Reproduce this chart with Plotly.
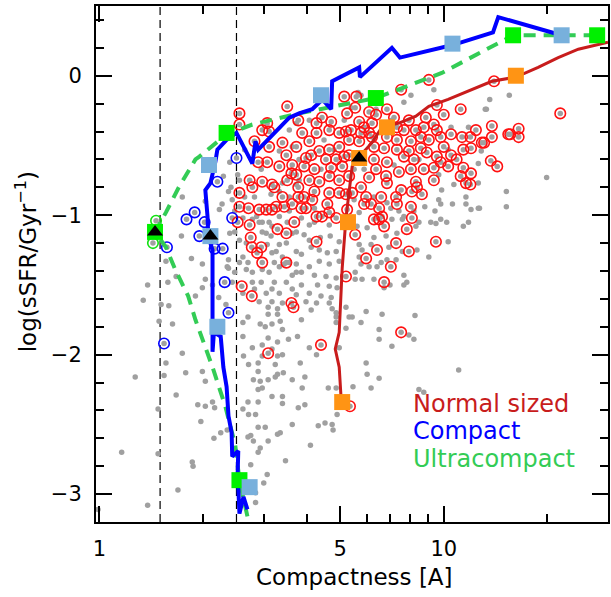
import math
import plotly.graph_objects as go

# ---------------- data (compactness [A], log sSFR) ----------------
grey_only = [
    (1.74,-0.87),(2.03,-0.90),(2.37,-0.83),(2.27,-0.92),(2.29,-0.72),(1.73,-1.15),(1.85,-1.31),(1.99,-1.35),
    (1.56,-1.33),(1.67,-1.44),(1.58,-1.48),(1.38,-1.50),(1.34,-1.61),(1.51,-1.64),(1.59,-1.65),(1.99,-1.52),
    (1.90,-1.58),(2.22,-1.59),(2.33,-1.64),(2.37,-1.32),(2.37,-1.38),(2.03,-1.46),(2.23,-0.96),(2.13,-1.50),
    (1.49,-1.76),(1.63,-1.78),(1.74,-1.99),(1.56,-2.06),(1.54,-2.15),(1.27,-2.16),(1.78,-2.13),(1.99,-2.12),
    (2.03,-2.19),(1.67,-2.29),(1.48,-2.39),(1.93,-2.36),(2.03,-2.37),(2.13,-2.34),(2.16,-2.38),(1.97,-2.48),
    (2.25,-2.56),(2.15,-2.60),(2.35,-2.54),(1.16,-2.70),(1.48,-2.71),(1.86,-2.77),(1.87,-2.80),(1.69,-2.97),
    (1.38,-3.08),(0.99,-3.11),
    (2.43,-0.89),(2.55,-0.75),(2.64,-0.87),(2.82,-0.87),(2.86,-1.01),(3.05,-1.13),(3.17,-1.08),(3.33,-1.01),
    (3.56,-0.97),(3.63,-1.13),(3.49,-1.20),(3.26,-1.26),(3.11,-1.41),(3.33,-1.37),(3.56,-1.34),(3.73,-1.41),
    (3.63,-1.53),(3.17,-1.53),(2.78,-1.48),(2.61,-1.56),(2.91,-1.05),(3.40,-0.77),(3.73,-0.78),(3.63,-0.51),
    (3.73,-0.34),(2.39,-1.13),(2.35,-1.37),(2.55,-1.18),(2.55,-1.34),(2.67,-1.39),(2.43,-1.48),
    (2.41,-0.80),(3.15,-0.85),(3.33,-0.83),(3.56,-0.87),(4.21,-0.95),(5.49,-0.89),(2.47,-0.97),(2.61,-1.02),
    (2.78,-1.03),(2.97,-1.05),(3.11,-1.05),(3.51,-1.05),(3.86,-1.02),(4.07,-1.07),(4.21,-1.05),(4.65,-1.07),
    (5.14,-1.09),(2.47,-1.12),(2.97,-1.12),(3.15,-1.15),(3.73,-1.12),(3.93,-1.14),(4.07,-1.18),(4.38,-1.16),
    (4.68,-1.15),(4.97,-1.19),(2.67,-1.20),(3.07,-1.21),(3.33,-1.21),(3.73,-1.26),(3.86,-1.28),(4.12,-1.23),
    (4.35,-1.25),(4.59,-1.27),(4.87,-1.26),(2.61,-1.30),(3.17,-1.27),(3.40,-1.30),(2.70,-1.34),(3.22,-1.34),
    (3.44,-1.35),(3.73,-1.35),(4.07,-1.37),(4.35,-1.33),(4.65,-1.35),(4.97,-1.33),(2.47,-1.41),(2.78,-1.41),
    (2.97,-1.39),(3.63,-1.43),(3.86,-1.41),(4.21,-1.43),(4.55,-1.44),(4.87,-1.45),(2.95,-1.48),(3.22,-1.48),
    (3.49,-1.48),(3.86,-1.50),(4.30,-1.50),(4.65,-1.51),(4.90,-1.52),(2.82,-1.53),(3.05,-1.56),(3.33,-1.56),
    (3.73,-1.57),(4.07,-1.56),(4.40,-1.58),(4.71,-1.59),(2.91,-1.62),(3.17,-1.62),(3.40,-1.63),(3.98,-1.62),
    (4.27,-1.63),(4.65,-1.63),
    (2.39,-0.62),(2.52,-0.71),(3.33,-0.54),(3.80,-0.60),(4.07,-0.32),(5.14,-0.32),(4.49,-0.46),(3.56,-0.39),
    (4.52,-0.15),(5.64,-0.12),(4.80,-0.53),(5.49,-0.67),(4.40,-0.67),(3.80,-0.75),(2.95,-0.67),(2.64,-0.53),
    (5.75,-0.14),(8.03,-0.14),(7.66,-0.19),(9.36,-0.10),(5.38,-0.23),(6.36,-0.24),(7.07,-0.32),(10.5,-0.37),
    (11.8,-0.37),(13.3,-0.24),(7.17,-0.64),(9.67,-0.71),(10.7,-0.78),(5.87,-0.67),(8.47,-0.60),(10.3,-0.53),
    (9.86,-0.82),(9.67,-0.89),(9.80,-0.92),(8.81,-0.94),(9.43,-0.97),(10.6,-0.92),(11.6,-0.87),(11.6,-0.92),
    (12.7,-0.95),(12.0,-0.96),(10.2,-1.05),(9.80,-1.03),(9.17,-1.05),(9.49,-1.06),(11.4,-1.08),(11.8,-1.05),
    (10.3,-1.19),(9.05,-1.30),(8.36,-1.25),(7.58,-1.26),(7.27,-1.32),(6.93,-1.23),(6.84,-1.32),(6.58,-1.34),
    (6.40,-1.37),(6.07,-1.37),(5.68,-1.21),(5.79,-1.25),(5.68,-1.30),(5.75,-1.35),(6.15,-1.21),(6.27,-1.16),
    (6.80,-1.15),(7.31,-1.13),(7.07,-1.03),(7.58,-1.03),(7.66,-1.01),(8.30,-1.08),(8.47,-1.05),(8.19,-0.97),
    (7.41,-0.97),(7.02,-0.95),(6.84,-0.91),(6.27,-0.87),(5.68,-0.98),(5.60,-1.08),(5.99,-1.09),(7.66,-1.43),
    (7.81,-1.48),(6.27,-1.46),(5.79,-1.46),(5.53,-1.46),(5.53,-1.41),(6.98,-1.50),(7.66,-1.50),(6.71,-1.52),
    (13.6,-0.17),(15.5,-0.14),(13.2,-0.24),(12.85,-0.54),(12.6,-0.63),(12.6,-0.77),(15.2,-0.83),(12.6,-0.95),
    (15.2,-0.94),(19.9,-0.73),
    (2.61,-1.77),(2.70,-1.73),(2.61,-1.87),(2.78,-1.95),(2.62,-2.01),(2.71,-2.07),(2.89,-2.06),(2.97,-2.01),
    (2.80,-2.18),(2.89,-2.12),(2.93,-2.19),(2.97,-2.24),(3.09,-2.18),(3.24,-2.16),(3.29,-2.14),(3.42,-2.13),
    (3.24,-2.07),(3.40,-2.00),(3.29,-2.01),(3.17,-1.96),(2.97,-1.93),(3.09,-1.88),(3.29,-1.91),(3.54,-1.89),
    (3.76,-1.87),(3.35,-1.76),(3.29,-1.71),(3.17,-1.78),(3.03,-1.80),(2.93,-1.78),(3.09,-1.66),(3.29,-1.67),
    (3.09,-1.71),(3.40,-1.82),(3.86,-1.75),(3.83,-2.06),(3.63,-2.18),(3.95,-2.16),(3.88,-2.24),(3.40,-2.30),
    (3.17,-2.30),(2.89,-2.25),(2.61,-2.39),(2.70,-2.34),(2.89,-2.34),(2.71,-2.43),(2.84,-2.43),(3.03,-2.52),
    (2.89,-2.52),(2.70,-2.59),(2.75,-2.58),(3.29,-2.57),(3.35,-2.56),(3.09,-2.62),(2.80,-2.62),(2.93,-2.67),
    (2.89,-2.70),(3.40,-2.35),(3.78,-2.38),(3.95,-2.36),(3.63,-2.50),(4.32,-2.51),(4.52,-2.49),(4.74,-2.50),
    (4.10,-2.65),(3.47,-2.76),(3.07,-2.86),(3.00,-2.92),(2.75,-2.79),(2.84,-2.99),(2.84,-3.06),(4.62,-2.24),
    (4.74,-1.67),(4.87,-1.70),(4.87,-1.73),(4.87,-1.77),(5.20,-1.66),(5.31,-1.73),(5.42,-1.73),(5.75,-1.77),
    (5.95,-1.69),(6.62,-1.71),(8.25,-1.72),(5.20,-1.81),(6.49,-1.82),(6.49,-1.89),(7.92,-1.86),(8.19,-1.89),
    (7.07,-1.94),(5.95,-2.06),(5.99,-2.14),(6.49,-2.17),(6.15,-2.24),(5.45,-2.23),(4.87,-2.24),(4.97,-1.95),
    (11.05,-2.11),(8.47,-2.25),(8.75,-2.27),(4.90,-2.43),(4.77,-2.54),(4.07,-1.95),(4.27,-2.00),(4.12,-1.68),
]

normal_pts = [
    (2.55,-0.27),(2.55,-0.35),(3.07,-0.34),(2.97,-0.39),(3.11,-0.40),(3.51,-0.22),(3.78,-0.32),(4.27,-0.34),
    (4.43,-0.30),(4.71,-0.33),(5.14,-0.15),(5.24,-0.27),(5.53,-0.23),(5.57,-0.15),(4.65,-0.39),(4.97,-0.41),
    (5.20,-0.40),(5.38,-0.39),(5.31,-0.46),(4.27,-0.41),(3.88,-0.41),(4.07,-0.47),(3.73,-0.51),(3.40,-0.48),
    (3.11,-0.51),(2.82,-0.47),(4.35,-0.54),(4.65,-0.53),(4.97,-0.51),(4.12,-0.57),(3.98,-0.59),(4.55,-0.60),
    (4.87,-0.60),(5.14,-0.58),(5.31,-0.57),(5.07,-0.65),(4.71,-0.66),(4.21,-0.67),(3.93,-0.65),(3.63,-0.64),
    (3.33,-0.65),(3.49,-0.57),(3.07,-0.62),(2.89,-0.62),(3.73,-0.71),(4.07,-0.75),(4.35,-0.76),(4.97,-0.75),
    (4.65,-0.72),(3.51,-0.75),(2.97,-0.76),(2.73,-0.75),(3.17,-0.78),(5.31,-0.72),(3.61,-0.70),
    (9.05,-0.03),(7.52,-0.10),(9.55,-0.21),(10.0,-0.28),(11.2,-0.24),(6.07,-0.26),(6.36,-0.28),(6.84,-0.24),
    (7.17,-0.30),(7.92,-0.32),(8.87,-0.30),(9.36,-0.35),(5.68,-0.33),(5.87,-0.37),(6.19,-0.34),(5.75,-0.41),
    (6.07,-0.41),(7.31,-0.37),(7.66,-0.39),(8.30,-0.39),(8.75,-0.37),(9.55,-0.39),(9.80,-0.44),(10.5,-0.42),
    (11.3,-0.44),(11.95,-0.44),(12.4,-0.39),(12.9,-0.48),(11.4,-0.53),(12.0,-0.52),(5.68,-0.47),(6.19,-0.44),
    (6.84,-0.44),(7.31,-0.46),(8.03,-0.47),(8.58,-0.44),(9.05,-0.46),(10.0,-0.51),(6.27,-0.51),(6.71,-0.52),
    (7.31,-0.53),(7.92,-0.54),(8.58,-0.52),(8.93,-0.55),(9.55,-0.58),(10.5,-0.57),(10.9,-0.60),(9.80,-0.62),
    (5.75,-0.58),(6.27,-0.60),(6.84,-0.62),(7.66,-0.58),(8.19,-0.60),(8.03,-0.67),(7.41,-0.69),(8.75,-0.67),
    (9.36,-0.66),(10.3,-0.65),(11.4,-0.66),(12.0,-0.70),(11.2,-0.72),(11.6,-0.77),(9.36,-0.75),(6.36,-0.67),
    (6.07,-0.73),(6.80,-0.72),(6.84,-0.77),(8.30,-0.76),
    (14.0,-0.04),(21.8,-0.27),(13.8,-0.36),(13.8,-0.44),(13.1,-0.48),(15.6,-0.42),(16.5,-0.38),(16.5,-0.44),
    (15.4,-0.42),(13.7,-0.61),(14.3,-0.65),
    (2.55,-0.84),(2.78,-0.80),(3.22,-0.80),(3.40,-0.87),(3.78,-0.80),(3.78,-0.87),(3.93,-0.87),(4.15,-0.89),
    (4.21,-0.83),(4.65,-0.84),(4.97,-0.84),(5.20,-0.85),(5.42,-0.84),(2.55,-0.94),(2.71,-0.95),(2.91,-0.96),
    (3.05,-0.96),(3.17,-0.96),(3.26,-0.94),(3.44,-0.94),(3.63,-0.92),(3.86,-0.95),(3.98,-0.95),(4.59,-0.92),
    (4.65,-0.98),(4.27,-1.01),(4.43,-1.01),(4.87,-1.02),(5.24,-0.96),(2.52,-1.05),(2.73,-1.07),(3.68,-1.05),
    (3.29,-1.10),(3.49,-1.13),(2.75,-1.16),(2.77,-1.23),(2.95,-1.23),(2.87,-1.27),(2.97,-1.34),(4.27,-1.19),
    (5.20,-1.44),(2.59,-1.51),(2.77,-1.58),(3.61,-1.63),(3.49,-1.34),
    (5.75,-0.80),(5.95,-0.87),(6.58,-0.87),(7.27,-0.87),(7.52,-0.82),(8.08,-0.83),(8.64,-0.85),(8.36,-0.80),
    (5.87,-0.92),(6.15,-0.92),(6.49,-0.95),(7.31,-0.92),(8.03,-0.94),(6.62,-1.01),(6.27,-1.03),(6.49,-1.03),
    (6.71,-1.08),(5.53,-1.14),(7.81,-1.10),(8.08,-1.02),(9.49,-1.19),(7.27,-1.20),(6.40,-1.25),(7.92,-1.26),
    (5.95,-1.31),(7.02,-1.37),(6.71,-1.48),(11.95,-0.78),
    (7.52,-1.84),(5.34,-2.37),(3.66,-1.66),(4.40,-1.93),(3.09,-1.99),
]

compact_pts = [
    (2.50,-0.59),(2.20,-0.76),(1.79,-1.03),(1.89,-0.98),(2.02,-1.05),(1.95,-1.15),(2.16,-1.24),
    (2.28,-1.24),(2.43,-1.02),(1.57,-1.23),(2.31,-1.48),(2.37,-1.70),(1.54,-1.92),
]

ultra_pts = [(1.46,-1.04),(1.43,-1.20),(1.45,-1.12)]

# running medians (lines)
normal_line_c = [5.03,5.03,4.97,4.84,4.97,5.03,5.07,5.20,5.31,5.42,5.68,6.19,6.61,7.41,8.30,9.05,10.3,12.1,13.8,16.2,18.8,21.5,24.6,30.0]
normal_line_s = [-2.37,-2.30,-2.09,-1.96,-1.84,-1.61,-1.38,-1.02,-0.82,-0.65,-0.58,-0.48,-0.37,-0.34,-0.29,-0.22,-0.17,-0.10,-0.04,-0.01,0.06,0.13,0.19,0.24]

compact_line_c = [2.69,2.62,2.55,2.52,2.53,2.43,2.42,2.37,2.34,2.29,2.25,2.15,2.13,2.13,2.13,2.13,2.07,2.06,2.03,2.10,2.17,2.20,2.34,2.50,2.78,2.84,2.89,3.56,3.80,4.15,4.44,4.71,4.74,5.68,5.71,7.07,7.46,10.6,13.9,14.4,22.0]
compact_line_s = [-3.11,-3.02,-3.14,-2.85,-2.69,-2.73,-2.56,-2.44,-2.23,-2.09,-1.87,-1.84,-1.98,-1.68,-1.48,-1.25,-1.15,-1.01,-0.82,-0.77,-0.62,-0.53,-0.46,-0.41,-0.63,-0.47,-0.53,-0.30,-0.27,-0.24,-0.17,-0.24,-0.04,0.06,-0.01,0.20,0.13,0.22,0.31,0.42,0.29]

ultra_line_c = [2.69,2.55,2.48,2.32,2.13,1.90,1.81,1.66,1.56,1.45,1.56,1.70,1.90,1.95,2.34,2.78,3.80,6.35,9.87,15.9,27.9]
ultra_line_s = [-3.16,-2.90,-2.65,-2.37,-2.09,-1.75,-1.58,-1.39,-1.23,-1.12,-0.98,-0.80,-0.60,-0.58,-0.42,-0.35,-0.27,-0.16,0.02,0.29,0.29]

normal_sq_c = [5.07,5.27,5.68,6.84,16.2]
normal_sq_s = [-2.34,-1.05,-0.59,-0.37,0.00]
compact_sq_c = [2.08,2.10,2.20,2.73,4.40,10.6,22.0]
compact_sq_s = [-0.64,-1.15,-1.80,-2.95,-0.14,0.23,0.29]
ultra_sq_c = [1.45,2.34,2.55,6.35,15.9,27.9]
ultra_sq_s = [-1.12,-0.41,-2.90,-0.16,0.29,0.29]

median_c = [1.45,2.10,5.68]
median_s = [-1.12,-1.15,-0.59]

size_limits = [1.5, 2.5]
y_limits = [-3.2, 0.5]
x_limits = [0.977, 30.0]

x_ticks = [1, 5, 10]
x_minor = [2, 3, 4, 6, 7, 8, 9, 20, 30]
y_ticks = [-3, -2, -1, 0]

labels = ["Normal sized", "Compact", "Ultracompact"]

# ---------------- colours ----------------
GREY = "#a0a0a0"
RED_C = "#ff1010"
BLUE = "#0000ff"
GREEN_C = "#10e010"
RED_L = "#c81c1c"
GREEN_L = "#33cc55"
ORANGE = "#ff9414"
LBLUE = "#78b0dc"
LIME = "#00f000"

def split(pts):
    return [p[0] for p in pts], [p[1] for p in pts]

fig = go.Figure()

for xv in size_limits:
    fig.add_trace(go.Scatter(x=[xv, xv], y=y_limits, mode="lines",
                             line=dict(color="black", width=1.2, dash="8px,5px"), hoverinfo="skip"))

all_pts = grey_only + normal_pts + compact_pts + ultra_pts
gx, gy = split(all_pts)
fig.add_trace(go.Scatter(x=gx, y=gy, mode="markers",
                         marker=dict(size=5.5, color=GREY, line=dict(width=0))))

for pts, col in [(normal_pts, RED_C), (compact_pts, BLUE), (ultra_pts, GREEN_C)]:
    px_, py_ = split(pts)
    fig.add_trace(go.Scatter(x=px_, y=py_, mode="markers",
                             marker=dict(symbol="circle-open", size=10.5, color=col, line=dict(width=1.6, color=col))))

fig.add_trace(go.Scatter(x=normal_line_c, y=normal_line_s, mode="lines",
                         line=dict(color=RED_L, width=3)))
fig.add_trace(go.Scatter(x=ultra_line_c, y=ultra_line_s, mode="lines",
                         line=dict(color=GREEN_L, width=4, dash="12px,8px")))
fig.add_trace(go.Scatter(x=compact_line_c, y=compact_line_s, mode="lines",
                         line=dict(color=BLUE, width=4)))

fig.add_trace(go.Scatter(x=normal_sq_c, y=normal_sq_s, mode="markers",
                         marker=dict(symbol="square", size=16, color=ORANGE, line=dict(width=0))))
fig.add_trace(go.Scatter(x=ultra_sq_c, y=ultra_sq_s, mode="markers",
                         marker=dict(symbol="square", size=16, color=LIME, line=dict(width=0))))
fig.add_trace(go.Scatter(x=compact_sq_c, y=compact_sq_s, mode="markers",
                         marker=dict(symbol="square", size=16, color=LBLUE, line=dict(width=0))))
fig.add_trace(go.Scatter(x=median_c, y=median_s, mode="markers",
                         marker=dict(symbol="triangle-up", size=14, color="black", line=dict(width=0))))

FONT = "DejaVu Sans"
axis_common = dict(showline=True, linecolor="black", linewidth=2, mirror="allticks",
                   ticks="inside", tickwidth=1.5, ticklen=16, tickcolor="black",
                   showgrid=False, zeroline=False,
                   tickfont=dict(family=FONT, size=21, color="black"))

fig.update_xaxes(type="log", range=[math.log10(x_limits[0]), math.log10(x_limits[1])],
                 tickmode="array", tickvals=x_ticks, ticktext=[str(v) for v in x_ticks],
                 minor=dict(tickmode="array", tickvals=x_minor, ticklen=8, tickwidth=1.5,
                            ticks="inside", tickcolor="black", showgrid=False),
                 ticklabelstandoff=7, **axis_common)
fig.update_yaxes(range=y_limits, tickmode="array", tickvals=y_ticks,
                 ticktext=[str(v).replace("-", "\u2212") for v in y_ticks],
                 minor=dict(dtick=0.2, tick0=0, ticklen=8, tickwidth=1.5,
                            ticks="inside", tickcolor="black", showgrid=False),
                 ticklabelstandoff=8, **axis_common)

annotations = [
    dict(text="Compactness [A]", x=0.504, y=-0.107, xref="paper", yref="paper",
         xanchor="center", yanchor="middle", showarrow=False,
         font=dict(family=FONT, size=23, color="black")),
    dict(text="log(sSFR/Gyr<sup>\u22121</sup>)", x=-0.136, y=0.504, xref="paper", yref="paper",
         xanchor="center", yanchor="middle", textangle=-90, showarrow=False,
         font=dict(family=FONT, size=23, color="black")),
]
for lab, col, yy in zip(labels, [RED_L, BLUE, GREEN_L], [0.229, 0.176, 0.122]):
    annotations.append(dict(text=lab, x=0.615, y=yy, xref="paper", yref="paper",
                            xanchor="left", yanchor="middle", showarrow=False,
                            font=dict(family=FONT, size=24, color=col)))

fig.update_layout(width=611, height=597, margin=dict(l=96, r=1, t=6, b=75),
                  paper_bgcolor="white", plot_bgcolor="white", showlegend=False,
                  annotations=annotations)

fig.write_html("out.html")
